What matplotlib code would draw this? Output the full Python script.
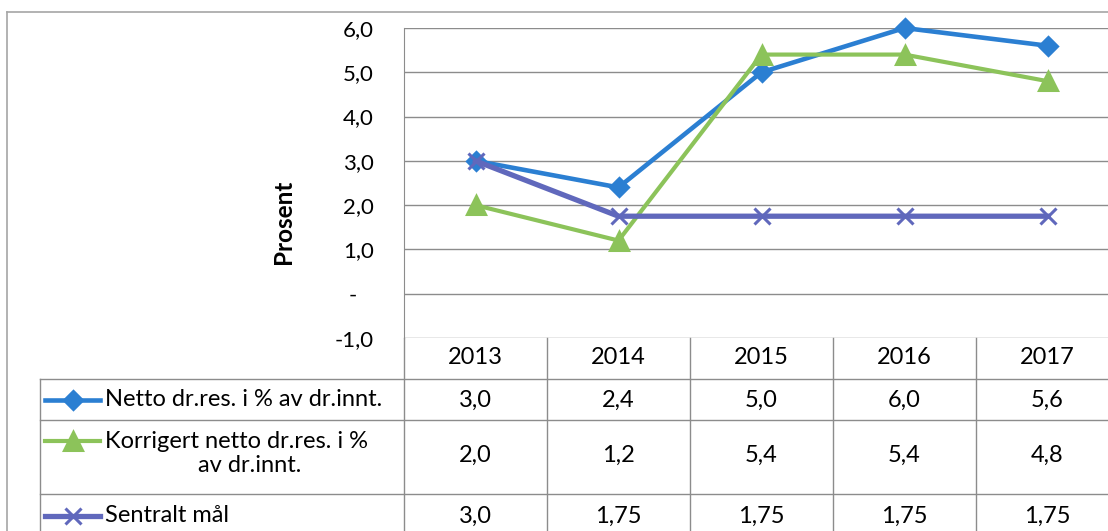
import numpy as np
import matplotlib.pyplot as plt
from matplotlib.lines import Line2D

plt.rcParams['font.family'] = ['Lato', 'DejaVu Sans']

years = ['2013', '2014', '2015', '2016', '2017']
netto = [3.0, 2.4, 5.0, 6.0, 5.6]
korrigert = [2.0, 1.2, 5.4, 5.4, 4.8]
sentralt = [3.0, 1.75, 1.75, 1.75, 1.75]

names = ['Netto dr.res. i % av dr.innt.',
         'Korrigert netto dr.res. i %\nav dr.innt.',
         'Sentralt mål']
colors = ['#2b7fd2', '#8cc35a', '#6068bc']
markers = ['D', '^', 'x']
msizes = [9, 13, 12]
lws = [3.3, 3.0, 3.8]

yticks = [-1, 0, 1, 2, 3, 4, 5, 6]


def fmt(v):
    s = f"{v:.2f}".rstrip('0')
    if s.endswith('.'):
        s += '0'
    return s.replace('.', ',')


def ytick_label(v):
    if v == 0:
        return '-   '
    return fmt(v)


W, H = 1108, 531
fig = plt.figure(figsize=(W / 100, H / 100), dpi=100)

# plot area (runs past the right edge like the cropped original)
ax = fig.add_axes([404 / W, (H - 338) / H, 715 / W, 310 / H])
x = np.arange(len(years))
series = [netto, korrigert, sentralt]
for vals, c, m, ms, lw in zip(series, colors, markers, msizes, lws):
    ax.plot(x, vals, color=c, lw=lw, marker=m, ms=ms, mew=2.2,
            mec=c, mfc=c, solid_joinstyle='round', clip_on=False, zorder=3)

ax.set_xlim(-0.5, 4.5)
ax.set_ylim(-1, 6)
ax.set_yticks(yticks)
ax.set_yticklabels([ytick_label(v) for v in yticks], fontsize=16)
ax.set_xticks([])
ax.tick_params(axis='y', length=0, pad=21.5)
ax.grid(axis='y', color='#8c8c8c', lw=1)
for s in ['top', 'right', 'bottom']:
    ax.spines[s].set_visible(False)
ax.spines['left'].set_color('#8c8c8c')
ax.set_ylabel('Prosent', fontsize=17.5, fontweight='bold')
ax.yaxis.set_label_coords(-0.152, 0.374)

# data table under the plot
tax = fig.add_axes([404 / W, 0, 715 / W, 193 / H])
tax.set_xlim(-0.5, 4.5)
tax.set_ylim(193, 0)
tax.axis('off')

lc = '#8c8c8c'
left = -3.045
rows = [0, 41, 82, 156, 200]
for xv in np.arange(-0.5, 4.5, 1.0):
    tax.plot([xv, xv], [0, 200], color=lc, lw=1, clip_on=False)
tax.plot([left, left], [41, 200], color=lc, lw=1, clip_on=False)
for yv in rows[1:4]:
    tax.plot([left, 4.6], [yv, yv], color=lc, lw=1, clip_on=False)

fs = 17
for i, yr in enumerate(years):
    tax.text(i, 20, yr, ha='center', va='center', fontsize=fs)

row_centres = [62, 117, 178]
legend_y = [62, 103, 178]
for r, (vals, nm, c, m, ms, lw) in enumerate(zip(series, names, colors, markers,
                                                  msizes, lws)):
    yc = row_centres[r]
    for i, v in enumerate(vals):
        tax.text(i, yc, fmt(v), ha='center', va='center', fontsize=fs)
    ly = legend_y[r]
    tax.plot([-3.01, -2.625], [ly, ly], color=c, lw=lw, clip_on=False)
    tax.plot([-2.815], [ly], color=c, marker=m, ms=ms, mew=2.2, mec=c,
             mfc=c, clip_on=False)
    if r == 1:
        first, second = nm.split('\n')
        tax.text(-2.59, ly, first, ha='left', va='center', fontsize=fs)
        tax.text(-1.58, 128, second, ha='center', va='center', fontsize=fs)
    else:
        tax.text(-2.59, ly, nm, ha='left', va='center', fontsize=fs)

# outer chart border
fig.add_artist(Line2D([7 / W, 7 / W], [0, (H - 12) / H], color='#a6a6a6',
                      lw=1.2, transform=fig.transFigure))
fig.add_artist(Line2D([7 / W, 1], [(H - 12) / H, (H - 12) / H],
                      color='#a6a6a6', lw=1.2, transform=fig.transFigure))

fig.savefig('out.png', dpi=100)
